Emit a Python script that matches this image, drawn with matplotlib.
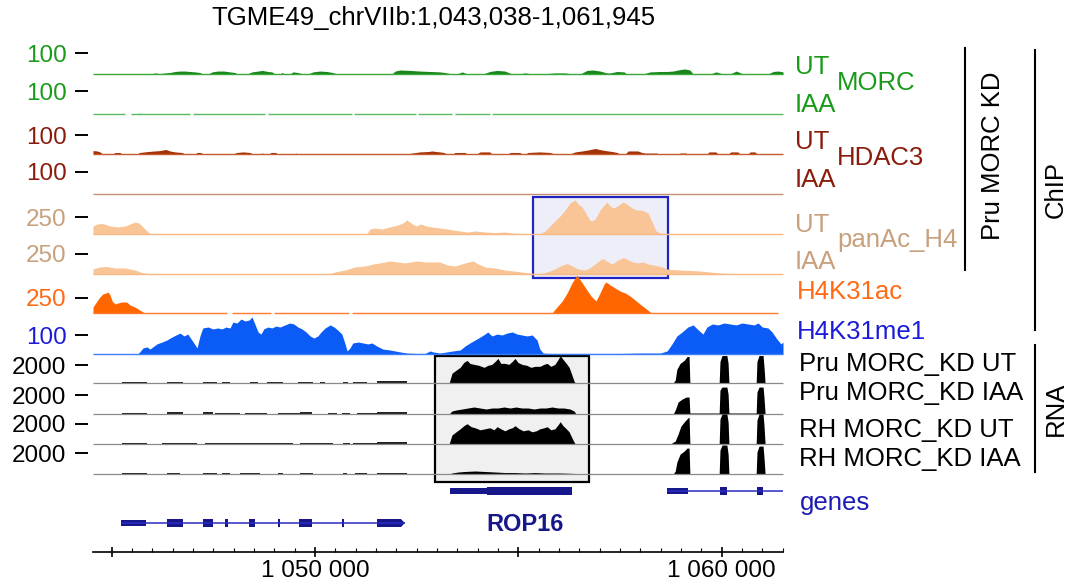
import matplotlib

matplotlib.use("Agg")
import matplotlib.pyplot as plt
from matplotlib.lines import Line2D
from matplotlib.patches import Polygon, Rectangle
from matplotlib.ticker import FixedFormatter, FixedLocator, MultipleLocator

plt.rcParams["font.family"] = ["Liberation Sans", "DejaVu Sans"]

# ---- layout (pixels of the 1069 x 585 canvas)
W, H = 1069, 585
X0, X1 = 93, 783
XLIM = (1044.54, 1061.51)  # kb shown on the ruler

TITLE = "TGME49_chrVIIb:1,043,038-1,061,945"

# ---- ChIP tracks (position kb, signal)
morc_ut_pos = [1044.54, 1045.94, 1046.06, 1046.19, 1046.31, 1046.43, 1046.56, 1046.68, 1046.80, 1046.92, 1047.05, 1047.17, 1047.24,
               1047.37, 1047.47, 1047.61, 1047.76, 1047.91, 1048.03, 1048.10,
               1048.33, 1048.45, 1048.60, 1048.70, 1048.84, 1048.94, 1049.02,
               1049.14, 1049.19, 1049.26, 1049.38, 1049.46, 1049.58, 1049.70,
               1049.83, 1049.95, 1050.12, 1050.29, 1050.44, 1050.54,
               1051.89, 1051.97, 1052.09, 1052.34, 1052.58, 1052.83, 1053.07, 1053.20, 1053.32,
               1053.49, 1053.62, 1053.74,
               1054.13, 1054.30, 1054.48, 1054.67, 1054.85,
               1054.97, 1055.17, 1055.36,
               1055.53, 1055.90, 1056.15, 1056.35,
               1056.52, 1056.69, 1056.84, 1057.01, 1057.18,
               1057.26, 1057.43, 1057.60, 1057.67,
               1058.07, 1058.24, 1058.49, 1058.66, 1058.81, 1058.98, 1059.10, 1059.22, 1059.30,
               1059.72, 1059.86, 1060.04,
               1060.21, 1060.36, 1060.53,
               1061.14, 1061.27, 1061.39, 1061.51]
morc_ut_val = [0, 0, 5, 2, 5, 7, 12, 14, 14, 12, 10, 7, 0,
               0, 10, 14, 14, 10, 7, 0,
               0, 10, 14, 17, 12, 10, 0,
               0, 7, 0, 0, 10, 7, 0,
               0, 10, 14, 12, 7, 0,
               0, 14, 19, 17, 14, 12, 10, 7, 2,
               0, 10, 0,
               0, 12, 17, 14, 0,
               0, 5, 0,
               0, 5, 5, 0,
               0, 17, 19, 14, 5,
               5, 12, 10, 0,
               0, 10, 12, 12, 14, 21, 24, 19, 0,
               0, 10, 0,
               0, 14, 0,
               0, 12, 14, 10]

morc_iaa_pos = [1044.54, 1045.64, 1045.69, 1045.74, 1061.51]
morc_iaa_val = [0, 0, 4, 0, 0]
morc_iaa_gaps = [(1045.33, 1045.47), (1046.92, 1047.00), (1048.77, 1048.84), (1050.91, 1050.96),
                 (1052.48, 1052.53), (1053.37, 1053.44), (1054.30, 1054.35)]

hdac3_ut_pos = [1044.54, 1044.64, 1044.71, 1044.76, 1044.81,
                1045.03, 1045.08, 1045.20, 1045.25,
                1045.62, 1045.69, 1045.89, 1046.06, 1046.19, 1046.33, 1046.43, 1046.56, 1046.73, 1046.80,
                1047.05, 1047.10, 1047.19, 1047.24,
                1047.98, 1048.08, 1048.23, 1048.40, 1048.47,
                1048.65, 1048.70, 1048.77,
                1048.87, 1048.92, 1049.04, 1049.06,
                1049.51, 1049.53, 1049.58,
                1052.26, 1052.39, 1052.58, 1052.78, 1052.88, 1052.98, 1053.07, 1053.17, 1053.25,
                1053.39, 1053.44, 1053.69, 1053.74,
                1053.98, 1054.06, 1054.30, 1054.35,
                1054.75, 1054.80, 1055.04, 1055.09,
                1055.17, 1055.24, 1055.53, 1055.78, 1055.90,
                1056.27, 1056.40, 1056.57, 1056.71, 1056.89, 1057.06, 1057.21, 1057.31, 1057.43, 1057.50,
                1057.63, 1057.70, 1057.94, 1058.04,
                1058.12, 1058.41, 1058.44,
                1058.93, 1058.98, 1059.13, 1059.15,
                1059.64, 1059.69, 1059.86, 1059.91,
                1060.16, 1060.23, 1060.40, 1060.45,
                1060.65, 1060.70, 1060.82, 1060.87, 1061.51]
hdac3_ut_val = [18, 16, 11, 3, 0,
                0, 8, 8, 0,
                0, 8, 13, 16, 18, 24, 16, 11, 8, 0,
                0, 8, 8, 0,
                0, 8, 11, 8, 0,
                0, 5, 0,
                0, 8, 8, 0,
                0, 5, 0,
                0, 5, 11, 13, 16, 13, 11, 8, 0,
                0, 8, 8, 0,
                0, 11, 11, 0,
                0, 8, 8, 0,
                0, 8, 11, 8, 0,
                0, 11, 16, 21, 29, 21, 16, 13, 8, 0,
                0, 16, 16, 8,
                5, 5, 0,
                0, 5, 5, 0,
                0, 11, 11, 0,
                0, 11, 11, 0,
                0, 11, 11, 0, 0]

hdac3_iaa_pos = [1044.54, 1061.51]
hdac3_iaa_val = [0, 0]

panac_ut_pos = [1044.54, 1044.64, 1044.78, 1044.96, 1045.15, 1045.33, 1045.45, 1045.57, 1045.67, 1045.77, 1045.87, 1045.94, 1045.99,
                1051.23, 1051.28, 1051.35, 1051.48, 1051.65, 1051.84, 1052.04, 1052.16, 1052.26, 1052.36, 1052.48, 1052.61, 1052.73,
                1052.88, 1053.07, 1053.25, 1053.39, 1053.57, 1053.76, 1053.94, 1054.18, 1054.43, 1054.67, 1054.85, 1055.04, 1055.48,
                1055.53, 1055.66, 1055.78, 1055.90, 1056.03, 1056.15, 1056.27, 1056.35, 1056.40, 1056.47,
                1056.57, 1056.67, 1056.76, 1056.81, 1056.89, 1057.01, 1057.13, 1057.18, 1057.26, 1057.33,
                1057.40, 1057.50, 1057.58, 1057.67, 1057.80, 1057.90, 1057.99, 1058.09, 1058.19, 1058.29,
                1058.39, 1058.49, 1058.61, 1058.73, 1061.51]
panac_ut_val = [118, 147, 154, 118, 103, 118, 147, 176, 162, 103, 44, 7, 0,
                0, 7, 74, 88, 74, 103, 132, 162, 206, 162, 118, 147, 118,
                103, 88, 74, 59, 44, 29, 44, 29, 22, 29, 15, 7, 7,
                7, 44, 118, 191, 265, 353, 456, 485, 500, 441,
                397, 294, 206, 191, 221, 353, 441, 470, 412, 382,
                397, 441, 470, 441, 382, 353, 353, 338, 309, 176,
                44, 15, 7, 0, 0]

panac_iaa_pos = [1044.54, 1044.71, 1044.88, 1045.08, 1045.33, 1045.57, 1045.74, 1045.89, 1045.99,
                 1050.32, 1050.37, 1050.49, 1050.74, 1050.98, 1051.23, 1051.43, 1051.60, 1051.84, 1052.04,
                 1052.21, 1052.34, 1052.53, 1052.71, 1052.88, 1053.07, 1053.25, 1053.44, 1053.69, 1053.89,
                 1054.01, 1054.18, 1054.43, 1054.67, 1054.87, 1055.17, 1055.41,
                 1055.53, 1055.66, 1055.78, 1055.90, 1056.03, 1056.20, 1056.32, 1056.47, 1056.64, 1056.76,
                 1056.89, 1057.01, 1057.08, 1057.21, 1057.31, 1057.45, 1057.58, 1057.70, 1057.82, 1057.94,
                 1058.07, 1058.19, 1058.31, 1058.44, 1058.54, 1058.66, 1058.78, 1058.98, 1059.22, 1059.47,
                 1059.72, 1059.96, 1060.21, 1060.33, 1061.51]
panac_iaa_val = [63, 88, 94, 75, 75, 50, 19, 6, 0,
                 0, 6, 25, 50, 88, 100, 125, 138, 163, 150,
                 138, 150, 163, 150, 150, 150, 113, 100, 138, 163,
                 125, 88, 75, 50, 38, 19, 6,
                 6, 19, 38, 63, 100, 131, 100, 63, 50, 75,
                 125, 175, 194, 150, 125, 175, 206, 175, 150, 138,
                 150, 125, 113, 100, 88, 63, 56, 50, 44, 38,
                 25, 13, 6, 0, 0]

h4k31ac_pos = [1044.54, 1044.64, 1044.71, 1044.78, 1044.86, 1044.91, 1044.96, 1045.01, 1045.08, 1045.15,
               1045.25, 1045.37, 1045.45, 1045.57, 1045.69, 1045.77, 1045.82,
               1055.83, 1055.93, 1056.08, 1056.20, 1056.32, 1056.44, 1056.54, 1056.67, 1056.79, 1056.91,
               1057.01, 1057.11, 1057.16, 1057.26, 1057.38, 1057.50, 1057.63, 1057.75, 1057.87, 1057.99,
               1058.12, 1058.24, 1058.29, 1061.39]
h4k31ac_val = [100, 200, 267, 317, 333, 350, 300, 200, 150, 167,
               183, 183, 133, 100, 50, 17, 0,
               0, 83, 200, 333, 500, 633, 533, 400, 283, 200,
               333, 483, 517, 467, 417, 367, 333, 283, 217, 150,
               83, 17, 0, 0]
h4k31ac_gaps = [(1047.83, 1047.96), (1048.92, 1048.99), (1050.84, 1050.91)]

h4k31me1_pos = [1044.54, 1045.64, 1045.69, 1045.77, 1045.87, 1045.94, 1046.01, 1046.11, 1046.24, 1046.36,
                1046.48, 1046.58, 1046.68, 1046.78, 1046.87, 1046.97, 1047.10, 1047.17, 1047.24, 1047.37,
                1047.49, 1047.61, 1047.71, 1047.81, 1047.91, 1047.98, 1048.08, 1048.18, 1048.28, 1048.38,
                1048.45, 1048.52, 1048.60, 1048.67, 1048.74, 1048.84, 1048.94, 1049.04, 1049.14, 1049.26,
                1049.38, 1049.48, 1049.58, 1049.68, 1049.78, 1049.88, 1049.97, 1050.07, 1050.15, 1050.25,
                1050.37, 1050.47, 1050.56, 1050.66, 1050.74, 1050.79, 1050.86, 1050.93, 1051.06, 1051.18,
                1051.30, 1051.40, 1051.52, 1051.67, 1051.84, 1051.97, 1052.09, 1052.26, 1052.46, 1052.71,
                1052.83, 1052.90, 1053.07, 1053.25, 1053.39, 1053.57, 1053.69, 1053.81, 1053.94, 1054.06,
                1054.18, 1054.25, 1054.35, 1054.48, 1054.60, 1054.72, 1054.85, 1054.97, 1055.09, 1055.21,
                1055.34, 1055.46, 1055.53, 1055.61, 1055.73, 1056.03, 1056.76, 1057.50, 1057.99, 1058.49,
                1058.66, 1058.78, 1058.90, 1059.03, 1059.17, 1059.30, 1059.40, 1059.54, 1059.64, 1059.77,
                1059.91, 1060.06, 1060.21, 1060.36, 1060.50, 1060.65, 1060.80, 1060.90, 1061.00, 1061.14,
                1061.24, 1061.36, 1061.46, 1061.51]
h4k31me1_val = [0, 0, 11, 32, 37, 26, 37, 53, 63, 74,
                89, 100, 110, 95, 105, 74, 32, 95, 137, 142,
                132, 137, 132, 142, 137, 168, 163, 184, 174, 179,
                195, 158, 116, 105, 132, 142, 137, 147, 142, 153,
                163, 158, 142, 132, 116, 95, 84, 95, 116, 137,
                153, 142, 126, 105, 53, 16, 32, 58, 63, 58,
                53, 58, 42, 26, 21, 16, 11, 5, 3, 3,
                16, 11, 5, 11, 16, 21, 42, 58, 74, 89,
                105, 116, 95, 105, 100, 110, 116, 105, 100, 95,
                100, 74, 26, 5, 3, 3, 3, 3, 5, 5,
                16, 53, 95, 116, 142, 153, 132, 105, 142, 158,
                153, 163, 158, 153, 163, 158, 153, 163, 142, 137,
                116, 79, 53, 63]

# ---- RNA-seq coverage
rna1_pos = [1044.54, 1053.30, 1053.32, 1053.37, 1053.47, 1053.57, 1053.66, 1053.74, 1053.81, 1053.91,
            1054.03, 1054.16, 1054.25, 1054.35, 1054.43, 1054.50, 1054.57, 1054.67, 1054.77, 1054.85,
            1054.92, 1054.99, 1055.09, 1055.21, 1055.31, 1055.41, 1055.53, 1055.63, 1055.71, 1055.80,
            1055.90, 1055.98, 1056.03, 1056.10, 1056.18, 1056.25, 1056.32, 1056.37, 1056.40, 1058.81,
            1058.86, 1058.90, 1058.98, 1059.08, 1059.15, 1059.20, 1059.22, 1059.94, 1059.96, 1060.01,
            1060.13, 1060.16, 1060.18, 1060.85, 1060.87, 1060.92, 1061.02, 1061.04, 1061.07, 1061.51]
rna1_val = [0, 0, 330, 1090, 1420, 1740, 2290, 2510, 2180, 2070,
            1960, 1740, 1960, 2070, 2400, 2730, 2180, 2180, 2070, 2400,
            2730, 2290, 2070, 1960, 1740, 1850, 1850, 2070, 2180, 1850,
            2070, 2620, 3050, 2620, 2180, 1740, 870, 220, 0, 0,
            330, 1530, 2180, 2510, 2940, 2940, 0, 0, 2400, 3050,
            3050, 2180, 0, 0, 2400, 3050, 3050, 1960, 0, 0]
rna1_low_start = [1045.25, 1046.36, 1047.24, 1047.71, 1048.40, 1048.82, 1049.58, 1050.12, 1050.69, 1050.93, 1051.52]
rna1_low_end = [1045.87, 1046.75, 1047.59, 1047.91, 1048.60, 1049.21, 1049.95, 1050.25, 1050.81, 1051.28, 1052.26]
rna1_low_val = [110, 110, 110, 110, 110, 110, 110, 110, 110, 110, 220]

rna2_pos = [1044.54, 1053.30, 1053.32, 1053.37, 1053.47, 1053.62, 1053.76, 1053.91, 1054.06, 1054.21,
            1054.35, 1054.50, 1054.65, 1054.80, 1054.94, 1055.09, 1055.24, 1055.39, 1055.53, 1055.68,
            1055.83, 1055.98, 1056.12, 1056.27, 1056.37, 1056.42, 1058.81, 1058.86, 1058.93, 1059.03,
            1059.13, 1059.20, 1059.22, 1059.94, 1059.96, 1060.01, 1060.13, 1060.16, 1060.18, 1060.85,
            1060.87, 1060.92, 1061.02, 1061.04, 1061.07, 1061.51]
rna2_val = [0, 0, 105, 315, 420, 525, 630, 735, 630, 525,
            630, 630, 735, 630, 735, 630, 630, 525, 630, 630,
            735, 630, 630, 525, 315, 0, 0, 420, 1260, 1575,
            1785, 1785, 105, 105, 2520, 2835, 2835, 2100, 105, 105,
            2310, 2835, 2835, 1890, 0, 0]
rna2_low_start = [1045.25, 1046.36, 1047.24, 1047.54, 1048.28, 1049.09, 1049.63, 1050.32, 1050.66, 1051.03, 1051.52]
rna2_low_end = [1045.87, 1046.75, 1047.49, 1048.15, 1048.82, 1049.63, 1049.93, 1050.54, 1050.86, 1051.52, 1052.26]
rna2_low_val = [105, 160, 160, 105, 105, 105, 160, 105, 105, 105, 210]

rna3_pos = [1044.54, 1053.30, 1053.32, 1053.37, 1053.47, 1053.57, 1053.66, 1053.74, 1053.84, 1053.94,
            1054.06, 1054.18, 1054.30, 1054.40, 1054.48, 1054.57, 1054.67, 1054.77, 1054.85, 1054.92,
            1055.02, 1055.12, 1055.24, 1055.34, 1055.44, 1055.53, 1055.63, 1055.71, 1055.80, 1055.90,
            1055.98, 1056.03, 1056.10, 1056.18, 1056.25, 1056.32, 1056.37, 1056.40, 1058.73, 1058.78,
            1058.86, 1058.93, 1059.00, 1059.10, 1059.17, 1059.20, 1059.22, 1059.94, 1059.96, 1060.01,
            1060.13, 1060.16, 1060.18, 1060.85, 1060.87, 1060.92, 1061.02, 1061.04, 1061.07, 1061.51]
rna3_val = [0, 0, 300, 910, 1220, 1520, 1830, 2030, 1730, 1620,
            1420, 1520, 1620, 1420, 1730, 1520, 1320, 1520, 1620, 1830,
            1520, 1320, 1420, 1220, 1320, 1520, 1620, 1730, 1420, 1520,
            1930, 2230, 1830, 1520, 1220, 610, 200, 0, 0, 100,
            300, 1000, 1800, 2300, 2600, 2700, 0, 0, 2500, 3000,
            3000, 2200, 0, 0, 2400, 3000, 3000, 2000, 0, 0]
rna3_low_start = [1045.25, 1046.24, 1047.29, 1049.63, 1050.69, 1050.93, 1051.52]
rna3_low_end = [1045.87, 1047.10, 1049.46, 1050.44, 1050.86, 1051.52, 1052.26]
rna3_low_val = [100, 100, 100, 100, 100, 100, 200]

rna4_pos = [1044.54, 1053.30, 1053.37, 1053.52, 1053.69, 1053.94, 1054.18, 1054.43, 1054.67, 1054.92,
            1055.17, 1055.41, 1055.66, 1056.03, 1056.40, 1056.42, 1058.81, 1058.86, 1058.90, 1058.98,
            1059.08, 1059.15, 1059.20, 1059.22, 1059.94, 1059.96, 1060.01, 1060.13, 1060.16, 1060.18,
            1060.85, 1060.87, 1060.92, 1061.02, 1061.04, 1061.07, 1061.51]
rna4_val = [0, 0, 95, 190, 240, 285, 240, 190, 140, 140,
            95, 140, 95, 95, 50, 0, 0, 285, 1140, 1900,
            2185, 2470, 2470, 0, 0, 2280, 2755, 2755, 1900, 0,
            0, 2090, 2660, 2660, 1710, 0, 0]
rna4_low_start = [1045.25, 1046.36, 1047.24, 1047.71, 1048.15, 1049.09, 1049.63, 1050.69, 1050.98, 1051.52]
rna4_low_end = [1045.87, 1046.68, 1047.59, 1047.91, 1048.65, 1049.21, 1049.95, 1050.79, 1051.28, 1052.26]
rna4_low_val = [95, 95, 95, 95, 95, 95, 95, 95, 95, 140]

# ---- gene models (kb)
rop16_utr = (1053.32, 1054.23)
rop16_cds = (1054.23, 1056.32)
right_gene_span = (1058.66, 1061.51)
right_gene_utr = (1058.66, 1059.17)
right_gene_exon_start = [1059.96, 1060.87]
right_gene_exon_end = [1060.13, 1061.02]
left_gene_span = (1045.23, 1052.21)
left_gene_utr = (1045.23, 1045.84)
left_gene_exon_start = [1046.36, 1047.24, 1047.79, 1048.38, 1049.09, 1049.61, 1050.66, 1051.52]
left_gene_exon_end = [1046.75, 1047.49, 1047.86, 1048.52, 1049.14, 1049.93, 1050.71, 1052.11]
left_gene_tip = 1052.21
rop16_label_x = 1055.17

# highlighted regions (kb)
chip_box = (1055.36, 1058.68)
rna_box = (1052.95, 1056.74)

ruler_major = [1045, 1050, 1055, 1060]
ruler_labels = ["", "1 050 000", "", "1 060 000"]

GREEN, GREEN_FILL = "#1a9a1a", "#17871a"
BROWN, BROWN_FILL = "#8b1c0c", "#a33205"
TAN, TAN_FILL = "#c8a07c", "#f9c496"
ORANGE = "#ff6a13"
BLUE, BLUE_FILL = "#1c1cd8", "#0b5cf6"
NAVY = "#17178c"
FS = 18.5
TICK_FS = 17.5


def fx(px):
    return px / W


def fy(px):
    return 1 - px / H


fig = plt.figure(figsize=(W / 100, H / 100), dpi=100)

# background: highlight boxes (x in kb, y in canvas pixels)
bg = fig.add_axes([fx(X0), 0, fx(X1) - fx(X0), 1])
bg.set_xlim(*XLIM)
bg.set_ylim(H, 0)
bg.axis("off")
bg.add_patch(Rectangle((chip_box[0], 197), chip_box[1] - chip_box[0], 81,
                       facecolor="#eeeef8", edgecolor="#2323c2", lw=1.6))
bg.add_patch(Rectangle((rna_box[0], 356), rna_box[1] - rna_box[0], 126,
                       facecolor="#f0f0f0", edgecolor="black", lw=1.6))


def add_track(top, base, ymax, tick_col):
    ax = fig.add_axes([fx(X0), fy(base), fx(X1) - fx(X0), (base - top) / H])
    ax.set_xlim(*XLIM)
    ax.set_ylim(0, ymax)
    ax.patch.set_visible(False)
    for s in ("top", "right", "bottom"):
        ax.spines[s].set_visible(False)
    ax.spines["left"].set_position(("outward", 3.5))
    ax.spines["left"].set_visible(False)
    ax.set_xticks([])
    ax.set_yticks([ymax])
    ax.tick_params(axis="y", length=9.5, width=1.4, color="black", pad=6,
                   labelsize=TICK_FS, labelcolor=tick_col)
    return ax


def baseline(ax, color, gaps=(), end=XLIM[1], lw=1.0):
    edges = [XLIM[0]]
    for a, b in gaps:
        edges += [a, b]
    edges.append(end)
    for a, b in zip(edges[::2], edges[1::2]):
        ax.plot([a, b], [0, 0], color=color, lw=lw, solid_capstyle="butt", clip_on=False)


chip = [
    (53, 74, 100, GREEN, GREEN_FILL, "#3aa63a", morc_ut_pos, morc_ut_val, (), XLIM[1]),
    (91, 114, 100, GREEN, GREEN_FILL, "#5cb85c", morc_iaa_pos, morc_iaa_val, morc_iaa_gaps, XLIM[1]),
    (135, 154, 100, BROWN, BROWN_FILL, "#c55a30", hdac3_ut_pos, hdac3_ut_val, (), XLIM[1]),
    (172, 194, 100, BROWN, BROWN_FILL, "#c8906e", hdac3_iaa_pos, hdac3_iaa_val, (), XLIM[1]),
    (217, 234, 250, TAN, TAN_FILL, "#f8b886", panac_ut_pos, panac_ut_val, (), XLIM[1]),
    (254, 274, 250, TAN, TAN_FILL, "#f8b886", panac_iaa_pos, panac_iaa_val, (), XLIM[1]),
    (298, 313, 250, ORANGE, "#ff6600", "#ff7a2a", h4k31ac_pos, h4k31ac_val, h4k31ac_gaps, 1061.39),
    (335, 354, 100, BLUE, BLUE_FILL, "#3d7cf7", h4k31me1_pos, h4k31me1_val, (), XLIM[1]),
]
for top, base, ymax, tcol, fcol, lcol, pos, val, gaps, end in chip:
    ax = add_track(top, base, ymax, tcol)
    ax.fill_between(pos, 0, val, color=fcol, lw=0, clip_on=False)
    baseline(ax, lcol, gaps, end)

rna = [
    (365, 383, rna1_pos, rna1_val, rna1_low_start, rna1_low_end, rna1_low_val),
    (395, 414, rna2_pos, rna2_val, rna2_low_start, rna2_low_end, rna2_low_val),
    (424, 444, rna3_pos, rna3_val, rna3_low_start, rna3_low_end, rna3_low_val),
    (453, 474, rna4_pos, rna4_val, rna4_low_start, rna4_low_end, rna4_low_val),
]
for top, base, pos, val, ls, le, lv in rna:
    ax = add_track(top, base, 2000, "black")
    baseline(ax, "#8a8a8a", lw=0.9)
    ax.fill_between(pos, 0, val, color="black", lw=0, clip_on=False)
    ax.bar(ls, lv, width=[e - s for s, e in zip(ls, le)], align="edge",
           color="#222222", lw=0, clip_on=False)

# ---- genes
gax = fig.add_axes([fx(X0), fy(540), fx(X1) - fx(X0), (540 - 475) / H])
gax.set_xlim(*XLIM)
gax.set_ylim(1.53, -0.5)
gax.axis("off")
EXON_H, UTR_H = 0.26, 0.16


def block(row, a, b, h):
    gax.add_patch(Rectangle((a, row - h / 2), b - a, h, color=NAVY, lw=0))


gax.hlines(0, rop16_utr[0], rop16_cds[1], color=NAVY, lw=1.2)
block(0, *rop16_utr, UTR_H)
block(0, *rop16_cds, EXON_H)
gax.hlines(0, *right_gene_span, color="#2b2bc4", lw=1.1)
block(0, *right_gene_utr, UTR_H)
for a, b in zip(right_gene_exon_start, right_gene_exon_end):
    block(0, a, b, EXON_H)
gax.hlines(1, *left_gene_span, color="#2b2bc4", lw=1.1)
block(1, *left_gene_utr, UTR_H)
for a, b in zip(left_gene_exon_start, left_gene_exon_end):
    block(1, a, b, EXON_H)
# pointed 3' end of the last exon
last = left_gene_exon_end[-1]
gax.add_patch(Polygon([(last, 1 - EXON_H / 2), (left_gene_tip, 1), (last, 1 + EXON_H / 2)],
                      closed=True, color=NAVY, lw=0))
gax.text(rop16_label_x, 1.05, "ROP16", ha="center", va="center",
         fontsize=17, fontweight="bold", color=NAVY)

# ---- ruler
rax = fig.add_axes([fx(X0), fy(552), fx(X1) - fx(X0), 0.02])
rax.set_xlim(*XLIM)
rax.patch.set_visible(False)
for s in ("top", "right", "left"):
    rax.spines[s].set_visible(False)
rax.spines["bottom"].set_linewidth(1.2)
rax.set_yticks([])
rax.xaxis.set_major_locator(FixedLocator(ruler_major))
rax.xaxis.set_major_formatter(FixedFormatter(ruler_labels))
rax.xaxis.set_minor_locator(MultipleLocator(0.5))
rax.tick_params(axis="x", which="major", direction="inout", length=7, width=1.2,
                pad=2.5, labelsize=17.5)
rax.tick_params(axis="x", which="minor", direction="in", length=3, width=0.8)

# ---- texts
fig.text(fx(433), fy(18), TITLE, ha="center", va="center", fontsize=FS)

right_labels = [
    (795, 67, "UT", GREEN), (795, 105, "IAA", GREEN), (837, 83, "MORC", GREEN),
    (795, 142, "UT", BROWN), (795, 180, "IAA", BROWN), (837, 158, "HDAC3", BROWN),
    (795, 225, "UT", TAN), (795, 262, "IAA", TAN), (837, 240, "panAc_H4", TAN),
    (797, 292, "H4K31ac", ORANGE), (797, 332, "H4K31me1", BLUE),
    (799, 364, "Pru MORC_KD UT", "black"), (799, 393, "Pru MORC_KD IAA", "black"),
    (799, 430, "RH MORC_KD UT", "black"), (799, 459, "RH MORC_KD IAA", "black"),
    (800, 503, "genes", "#1c1cb4"),
]
for x, y, s, c in right_labels:
    fig.text(fx(x), fy(y), s, ha="left", va="center", fontsize=FS, color=c)

for x, y0, y1 in [(965, 48, 270), (1035, 50, 330), (1035, 345, 472)]:
    fig.add_artist(Line2D([fx(x), fx(x)], [fy(y0), fy(y1)], color="black", lw=1.5))
fig.text(fx(993), fy(156), "Pru MORC KD", rotation=90, ha="center", va="center", fontsize=FS)
fig.text(fx(1056), fy(189), "ChIP", rotation=90, ha="center", va="center", fontsize=FS)
fig.text(fx(1056), fy(409), "RNA", rotation=90, ha="center", va="center", fontsize=FS)

fig.savefig("out.png", dpi=100)
